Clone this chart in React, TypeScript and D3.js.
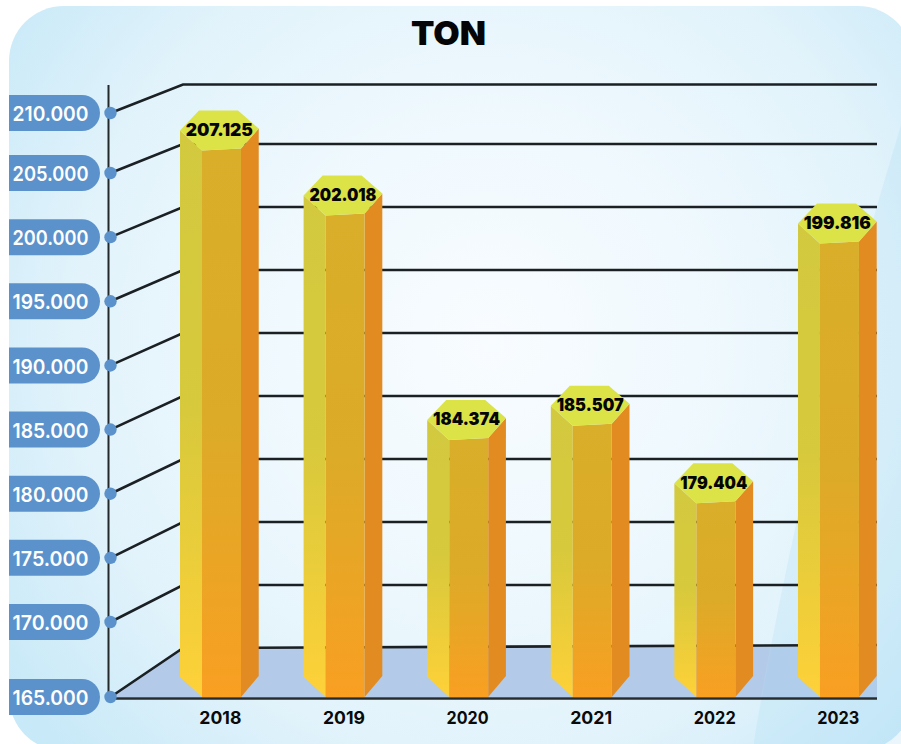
import React, {useEffect, useRef} from 'react';
import * as d3 from 'd3';

const years = ['2018', '2019', '2020', '2021', '2022', '2023'];
const tonValues = [207125, 202018, 184374, 185507, 179404, 199816];
const tickValues = [165000, 170000, 175000, 180000, 185000, 190000, 195000, 200000, 205000, 210000];

const width = 901;
const height = 744;
const axisX = 108.5;
const backX = 183;
const rightX = 877;
const baseY = 697;
const fontFamily = 'Inter, sans-serif';

// thousands are written with a dot in the original
const formatTon = d3.formatLocale({decimal: ',', thousands: '.', grouping: [3], currency: ['', '']}).format(',d');

// the drawn axis is not quite even, so the scales have a few extra stops
const yFront = d3.scaleLinear().domain([165000, 170000, 205000, 210000]).range([baseY, 622, 173, 113]);
const yBack = d3.scaleLinear().domain([165000, 205000, 210000]).range([648, 144, 84.5]);
const yBar = d3.scaleLinear().domain([170000, 210000]).range([622, 113]);
const xBar = d3.scaleBand<string>().domain(years).range([180, 876.7]).paddingInner(0.363);

const poly = (pts: [number, number][]) => 'M' + pts.map(p => p.join(',')).join('L') + 'Z';

const App = () => {
    const anchor = useRef<SVGSVGElement>(null);

    useEffect(() => {
        const svg = d3.select(anchor.current);
        svg.selectAll('*').remove();

        const defs = svg.append('defs');

        function addGradient(id: string, top: string, mid: string, bottom: string) {
            const g = defs.append('linearGradient').attr('id', id).attr('x1', 0).attr('y1', 0).attr('x2', 0).attr('y2', 1);
            g.append('stop').attr('offset', 0).attr('stop-color', top);
            g.append('stop').attr('offset', 0.5).attr('stop-color', mid);
            g.append('stop').attr('offset', 1).attr('stop-color', bottom);
        }

        addGradient('leftFace', '#d3c93f', '#d8c93c', '#fed138');
        addGradient('frontFace', '#d9ae29', '#dcab28', '#f99f22');
        addGradient('rightFace', '#e28b21', '#e28b21', '#e18b22');

        const bgGrad = defs.append('radialGradient').attr('id', 'bg')
            .attr('gradientUnits', 'userSpaceOnUse').attr('cx', 490).attr('cy', 340).attr('r', 590);
        bgGrad.append('stop').attr('offset', 0).attr('stop-color', '#f8fcff');
        bgGrad.append('stop').attr('offset', 0.35).attr('stop-color', '#f0f9fe');
        bgGrad.append('stop').attr('offset', 0.7).attr('stop-color', '#e2f3fb');
        bgGrad.append('stop').attr('offset', 1).attr('stop-color', '#c8e9f8');

        // background panel, runs off the right and bottom of the picture
        svg.append('rect').attr('x', 9).attr('y', 6).attr('width', 904).attr('height', 745).attr('rx', 55)
            .attr('fill', 'url(#bg)');

        // floor
        svg.append('path')
            .attr('d', poly([[axisX + 2, baseY], [backX, yBack(165000)], [rightX, yBack(165000) - 3], [rightX, baseY]]))
            .attr('fill', '#b3cae8');

        // lighter swoosh on the right side
        const swooshPath = 'M903,118C850,290 790,520 753,746L903,746Z';
        const swoosh = svg.append('path').attr('d', swooshPath).attr('fill', '#a9dcf5').attr('opacity', 0.24);
        swoosh.attr('stroke', '#ffffff').attr('stroke-opacity', 0.35).attr('stroke-width', 0.8);

        // vertical axis
        svg.append('line').attr('x1', axisX).attr('x2', axisX).attr('y1', 85).attr('y2', baseY)
            .attr('stroke', '#23282b').attr('stroke-width', 2);

        // grid lines running along the back wall and down to the axis
        const grid = svg.append('g').attr('fill', 'none').attr('stroke', '#1a2023').attr('stroke-width', 2.6);
        grid.selectAll('path').data(tickValues).enter().append('path')
            .attr('d', d => {
                const yEnd = d === 165000 ? yBack(d) - 3 : yBack(d);
                return `M${axisX + 2},${yFront(d)}L${backX},${yBack(d)}L${rightX},${yEnd}`;
            });

        // bars
        const bars = svg.selectAll('.bar').data(years).enter().append('g').attr('class', 'bar');

        bars.each(function (year, i) {
            const g = d3.select(this);
            const x0 = xBar(year) as number;
            const x1 = x0 + 22;
            const x2 = x0 + 61;
            const x3 = x0 + xBar.bandwidth();
            const top = yBar(tonValues[i]);

            g.append('path').attr('fill', 'url(#leftFace)')
                .attr('d', poly([[x0, top - 19], [x1, top + 1], [x1, baseY], [x0, baseY - 20]]));
            g.append('path').attr('fill', 'url(#rightFace)')
                .attr('d', poly([[x2, top - 1], [x3, top - 21], [x3, baseY - 21], [x2, baseY]]));
            g.append('path').attr('fill', 'url(#frontFace)')
                .attr('d', poly([[x1, top + 1], [x2, top - 1], [x2, baseY], [x1, baseY]]));
            g.append('path').attr('fill', '#dbe346')
                .attr('d', poly([[x0, top - 19], [x0 + 19, top - 39], [x0 + 58, top - 39], [x3, top - 21], [x2, top - 1], [x1, top + 1]]));
            g.append('text')
                .attr('x', (x0 + x3) / 2)
                .attr('y', top - 20)
                .attr('dy', '0.36em')
                .attr('text-anchor', 'middle')
                .attr('font-family', fontFamily)
                .attr('font-weight', 900)
                .attr('font-size', 17.5)
                .attr('textLength', 67)
                .attr('lengthAdjust', 'spacingAndGlyphs')
                .attr('fill', '#050505')
                .text(formatTon(tonValues[i]));
            g.append('text')
                .attr('x', (x0 + x3) / 2 + 1)
                .attr('y', 718)
                .attr('dy', '0.36em')
                .attr('text-anchor', 'middle')
                .attr('font-family', fontFamily)
                .attr('font-weight', 700)
                .attr('font-size', 17.5)
                .attr('textLength', 42)
                .attr('lengthAdjust', 'spacingAndGlyphs')
                .attr('fill', '#0a0a0a')
                .text(year);
        });

        // front base line
        svg.append('line').attr('x1', axisX).attr('x2', rightX).attr('y1', baseY + 1.5).attr('y2', baseY + 1.5)
            .attr('stroke', '#262b2e').attr('stroke-width', 2.6);

        // tick labels in blue pills
        const ticks = svg.selectAll('.tick').data(tickValues).enter().append('g').attr('class', 'tick');

        ticks.append('path')
            .attr('fill', '#5b92cc')
            .attr('d', d => {
                const y = yFront(d);
                return `M9,${y - 18}H82A18,18 0 0 1 82,${y + 18}H9Z`;
            });
        ticks.append('circle')
            .attr('cx', 110.5)
            .attr('cy', d => yFront(d))
            .attr('r', 6.2)
            .attr('fill', '#5b92cc');
        ticks.append('text')
            .attr('x', 50.5)
            .attr('y', d => yFront(d))
            .attr('dy', '0.4em')
            .attr('text-anchor', 'middle')
            .attr('font-family', fontFamily)
            .attr('font-weight', 600)
            .attr('font-size', 20.5)
            .attr('textLength', 76)
            .attr('lengthAdjust', 'spacingAndGlyphs')
            .attr('fill', '#ffffff')
            .text(d => formatTon(d));

        // title
        svg.append('text')
            .attr('x', 448.5)
            .attr('y', 45)
            .attr('text-anchor', 'middle')
            .attr('font-family', fontFamily)
            .attr('font-weight', 900)
            .attr('font-size', 33)
            .attr('textLength', 75)
            .attr('lengthAdjust', 'spacingAndGlyphs')
            .attr('fill', '#050508')
            .text('TON');
    }, []);

    return <svg ref={anchor} width={width} height={height}
                style={{position: 'absolute', left: 0, top: 0, background: '#ffffff'}}/>;
};

export default App;
